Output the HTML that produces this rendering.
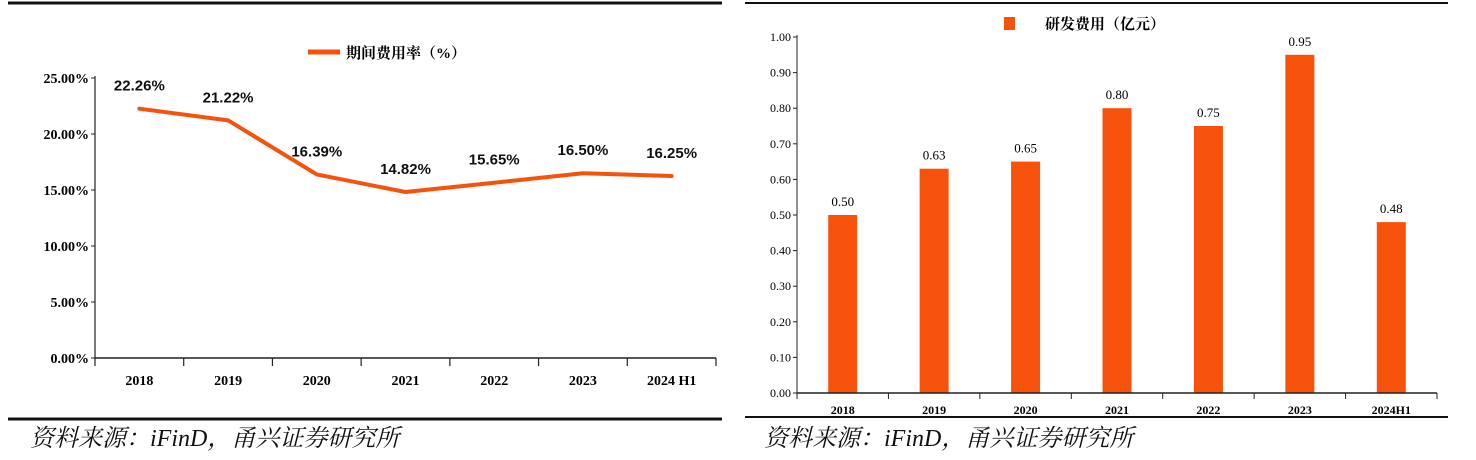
<!DOCTYPE html>
<html><head><meta charset="utf-8">
<style>
body{margin:0;background:#fff;width:1476px;height:460px;overflow:hidden}
svg{display:block}
.serif{font-family:"Liberation Serif","Noto Serif CJK SC",serif}
.src{font-family:"Liberation Serif","Noto Serif CJK SC",serif;font-style:italic;font-size:24px;fill:#111}
</style></head><body>
<svg width="1476" height="460">
<g id="left"></g>
<g id="right"></g>
</svg>
<script>
const lineCats=["2018","2019","2020","2021","2022","2023","2024 H1"];
const lineVals=[22.26,21.22,16.39,14.82,15.65,16.50,16.25];
const lineTicks=[0,5,10,15,20,25];
const barCats=["2018","2019","2020","2021","2022","2023","2024H1"];
const barVals=[0.50,0.63,0.65,0.80,0.75,0.95,0.48];
const barTicks=[0,0.1,0.2,0.3,0.4,0.5,0.6,0.7,0.8,0.9,1.0];
const NS="http://www.w3.org/2000/svg";
function mk(p,t,a,txt){const e=document.createElementNS(NS,t);for(const k in a)e.setAttribute(k,a[k]);if(txt!=null)e.textContent=txt;p.appendChild(e);return e;}
// LEFT
const L=document.getElementById('left');
let e;
e=mk(L,'line',{x1:8,y1:3,x2:722,y2:3,stroke:'#111','stroke-width':3});


const lx0=95,lx1=716,ly0=358,ly1=78;
const ly=v=>ly0-(v/25)*(ly0-ly1);
const lbw=(lx1-lx0)/lineCats.length;
const lx=i=>lx0+lbw*(i+0.5);
mk(L,'line',{x1:lx0,y1:ly1-2,x2:lx0,y2:ly0,stroke:'#222','stroke-width':1.2});
mk(L,'line',{x1:lx0,y1:ly0,x2:lx1,y2:ly0,stroke:'#222','stroke-width':1.5});
lineTicks.forEach(t=>{
 mk(L,'line',{x1:lx0-4,y1:ly(t),x2:lx0,y2:ly(t),stroke:'#222'});
 e=mk(L,'text',{x:lx0-6,y:ly(t)+5,'text-anchor':'end','font-size':14,'font-weight':'bold',class:'serif'},t.toFixed(2)+'%');
 
 
});
for(let i=0;i<=lineCats.length;i++)mk(L,'line',{x1:lx0+lbw*i,y1:ly0,x2:lx0+lbw*i,y2:ly0+8,stroke:'#222','stroke-width':1.2});
lineCats.forEach((c,i)=>{
 e=mk(L,'text',{x:lx(i),y:385,'text-anchor':'middle','font-size':14,'font-weight':'bold',class:'serif'},c);
 
 
});
e=mk(L,'polyline',{points:lineVals.map((v,i)=>lx(i)+','+ly(v)).join(' '),fill:'none',stroke:'#f5520c','stroke-width':4,'stroke-linejoin':'round','stroke-linecap':'round'});


lineVals.forEach((v,i)=>{
 e=mk(L,'text',{x:lx(i),y:ly(v)-18,'text-anchor':'middle','font-size':15,'font-weight':'bold','font-family':'Liberation Sans,sans-serif',fill:'#111'},v.toFixed(2)+'%');
 
 
});
e=mk(L,'line',{x1:308,y1:52,x2:340,y2:52,stroke:'#f5520c','stroke-width':5});


e=mk(L,'text',{x:346,y:58,'font-size':15,'font-weight':'bold',class:'serif'},'期间费用率（%）');


mk(L,'line',{x1:8,y1:419,x2:722,y2:419,stroke:'#111','stroke-width':3});
e=mk(L,'text',{x:30,y:446,class:'src'},'资料来源：iFinD，甬兴证券研究所');


// RIGHT
const R=document.getElementById('right');
mk(R,'line',{x1:745,y1:3,x2:1448,y2:3,stroke:'#111','stroke-width':2});
const rx0=797,rx1=1437,ry0=393,ry1=37;
const ry=v=>ry0-(v/1)*(ry0-ry1);
const rbw=(rx1-rx0)/barCats.length;
const rx=i=>rx0+rbw*(i+0.5);
barVals.forEach((v,i)=>{
 e=mk(R,'rect',{x:rx(i)-14.5,y:ry(v),width:29,height:ry0-ry(v),fill:'#f7520c'});
 
 
 e=mk(R,'text',{x:rx(i),y:ry(v)-9,'text-anchor':'middle','font-size':13,class:'serif'},v.toFixed(2));
 
 
});
mk(R,'line',{x1:rx0,y1:ry1-2,x2:rx0,y2:ry0,stroke:'#222'});
mk(R,'line',{x1:rx0,y1:ry0,x2:rx1,y2:ry0,stroke:'#222','stroke-width':1.5});
barTicks.forEach(t=>{
 mk(R,'line',{x1:rx0-4,y1:ry(t),x2:rx0,y2:ry(t),stroke:'#222'});
 e=mk(R,'text',{x:rx0-6,y:ry(t)+4,'text-anchor':'end','font-size':12,class:'serif'},t.toFixed(2));
 
 
});
for(let i=0;i<=barCats.length;i++)mk(R,'line',{x1:rx0+rbw*i,y1:ry0,x2:rx0+rbw*i,y2:ry0+6,stroke:'#222'});
barCats.forEach((c,i)=>{
 e=mk(R,'text',{x:rx(i),y:414,'text-anchor':'middle','font-size':12,'font-weight':'bold',class:'serif'},c);
 
 
});
e=mk(R,'rect',{x:1004,y:17,width:11,height:13,fill:'#f7520c'});


e=mk(R,'text',{x:1045,y:29,'font-size':15,'font-weight':'bold',class:'serif'},'研发费用（亿元）');


mk(R,'line',{x1:745,y1:417,x2:1448,y2:417,stroke:'#111','stroke-width':2});
e=mk(R,'text',{x:764,y:446,class:'src'},'资料来源：iFinD，甬兴证券研究所');


</script>
</body></html>
